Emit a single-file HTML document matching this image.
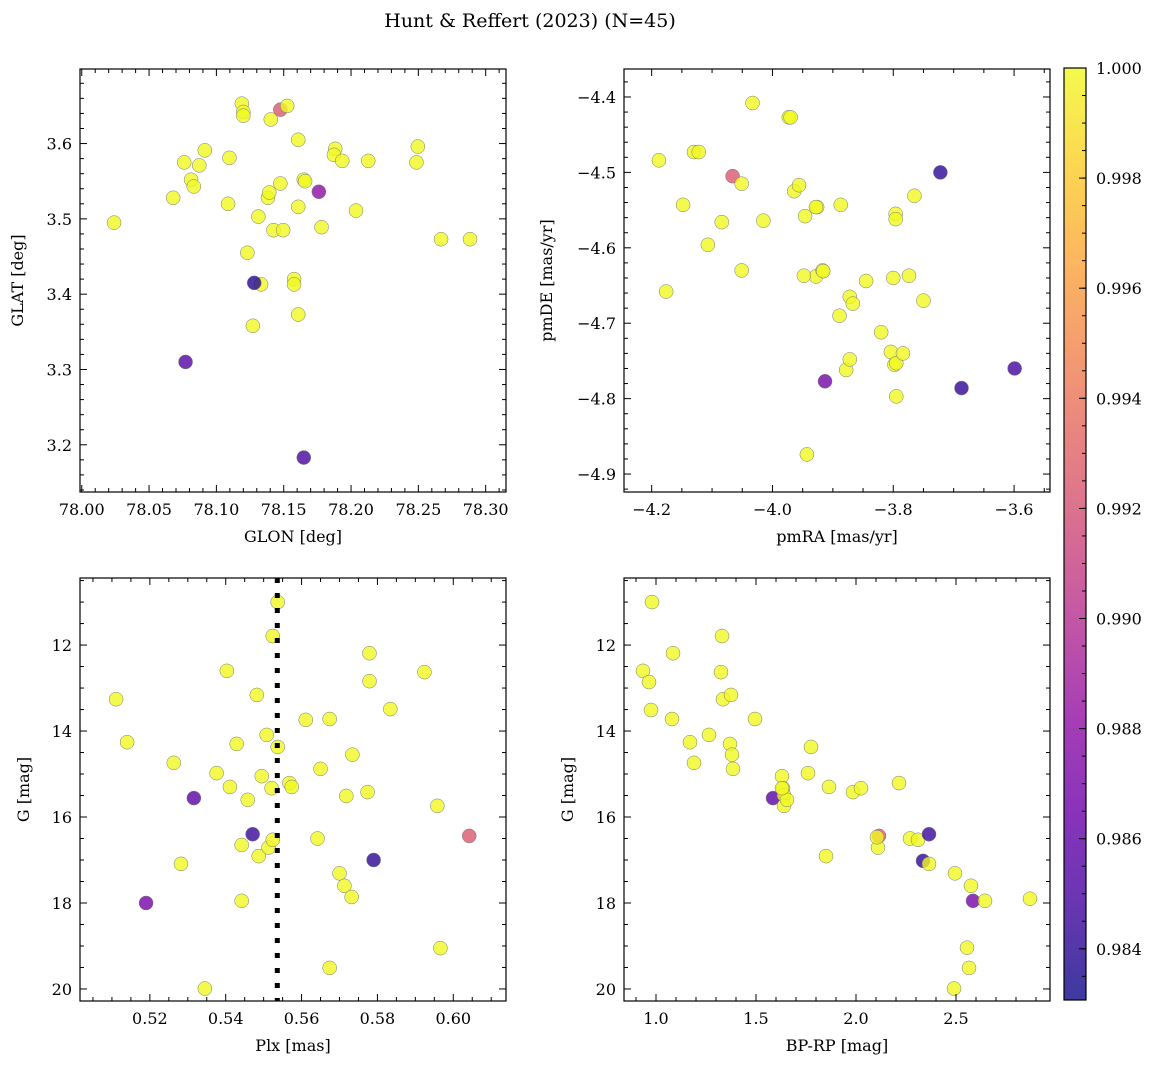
<!DOCTYPE html>
<html><head><meta charset="utf-8">
<style>
html,body{margin:0;padding:0;background:#fff;}
svg{display:block;font-family:"DejaVu Serif","Liberation Serif",serif;}
</style></head>
<body>
<svg id="fig" width="1161" height="1068" xmlns="http://www.w3.org/2000/svg">
<text x="530" y="27" text-anchor="middle" font-size="19">Hunt &amp; Reffert (2023) (N=45)</text>
</svg>
<script>
// ---- data ----
const glon=[78.0240,78.0679,78.0761,78.0812,78.0832,78.0873,78.0914,78.1097,78.1087,78.1189,78.1200,78.1200,78.1230,78.1312,78.1332,78.1404,78.1383,78.1393,78.1424,78.1475,78.1475,78.1496,78.1526,78.1577,78.1577,78.1608,78.1608,78.1608,78.1649,78.1659,78.1761,78.1781,78.1883,78.1873,78.1935,78.2037,78.2128,78.2486,78.2496,78.2669,78.2884,78.1281,78.0771,78.1649,78.1271];
const glat=[3.495,3.528,3.575,3.552,3.543,3.571,3.591,3.581,3.520,3.653,3.642,3.637,3.455,3.503,3.413,3.632,3.528,3.535,3.485,3.547,3.645,3.485,3.650,3.420,3.413,3.605,3.516,3.373,3.552,3.550,3.536,3.489,3.593,3.585,3.577,3.511,3.577,3.575,3.596,3.473,3.473,3.415,3.310,3.183,3.358];
const probTL=[1,1,1,1,1,1,1,1,1,1,1,1,1,1,1,1,1,1,1,1,0.9925,1,1,1,1,1,1,1,1,1,0.988,1,1,1,1,1,1,1,1,1,1,0.9838,0.9855,0.985,1];
const pmra=[-4.188,-4.176,-4.130,-4.122,-4.148,-4.107,-4.084,-4.066,-4.051,-4.051,-4.033,-4.015,-3.973,-3.970,-3.964,-3.956,-3.946,-3.928,-3.926,-3.928,-3.917,-3.916,-3.943,-3.889,-3.887,-3.878,-3.872,-3.872,-3.867,-3.845,-3.820,-3.804,-3.800,-3.798,-3.796,-3.796,-3.795,-3.795,-3.784,-3.774,-3.765,-3.750,-3.722,-3.687,-3.599,-3.913,-3.948];
const pmde=[-4.484,-4.658,-4.473,-4.473,-4.543,-4.596,-4.566,-4.505,-4.515,-4.630,-4.408,-4.564,-4.427,-4.427,-4.525,-4.517,-4.558,-4.638,-4.546,-4.546,-4.630,-4.631,-4.874,-4.690,-4.543,-4.762,-4.665,-4.748,-4.674,-4.644,-4.712,-4.738,-4.640,-4.755,-4.555,-4.562,-4.753,-4.797,-4.740,-4.637,-4.531,-4.670,-4.500,-4.786,-4.760,-4.777,-4.637];
const probTR=[1,1,1,1,1,1,1,0.9925,1,1,1,1,1,1,1,1,1,1,1,1,1,1,1,1,1,1,1,1,1,1,1,1,1,1,1,1,1,1,1,1,1,1,0.984,0.9842,0.9848,0.987,1];
const plx=[0.5111,0.5140,0.5263,0.5316,0.5190,0.5282,0.5345,0.5376,0.5403,0.5411,0.5429,0.5442,0.5442,0.5458,0.5471,0.5482,0.5487,0.5495,0.5508,0.5513,0.5524,0.5524,0.5521,0.5537,0.5537,0.5568,0.5574,0.5611,0.5642,0.5650,0.5674,0.5674,0.5700,0.5713,0.5718,0.5732,0.5734,0.5774,0.5779,0.5779,0.5790,0.5834,0.5924,0.5958,0.5966,0.6042];
const gPL=[13.26,14.26,14.74,15.56,18.00,17.09,19.99,14.98,12.60,15.30,14.30,17.95,16.65,15.60,16.40,13.16,16.91,15.05,14.09,16.71,11.79,16.53,15.33,11.00,14.37,15.21,15.30,13.74,16.50,14.88,13.72,19.51,17.31,17.60,15.51,17.86,14.55,15.42,12.19,12.84,17.00,13.49,12.63,15.74,19.05,16.44];
const probBL=[1,1,1,0.9857,0.987,1,1,1,1,1,1,1,1,1,0.9845,1,1,1,1,1,1,1,1,1,1,1,1,1,1,1,1,1,1,1,1,1,1,1,1,1,0.984,1,1,1,1,0.9925];
const bprp=[0.935,0.965,0.980,0.975,1.080,1.085,1.170,1.190,1.265,1.330,1.325,1.335,1.375,1.370,1.380,1.385,1.495,1.585,1.630,1.635,1.640,1.640,1.655,1.630,1.775,1.760,1.850,1.865,1.985,2.025,2.110,2.215,2.115,2.105,2.270,2.310,2.335,2.365,2.365,2.495,2.575,2.585,2.645,2.870,2.555,2.565,2.490];
const gBR=[12.60,12.86,11.00,13.51,13.72,12.19,14.26,14.74,14.09,11.79,12.63,13.26,13.16,14.30,14.55,14.88,13.72,15.56,15.05,15.33,15.49,15.74,15.60,15.33,14.37,14.98,16.91,15.30,15.42,15.33,16.71,15.21,16.44,16.47,16.50,16.53,17.02,17.09,16.40,17.31,17.60,17.95,17.95,17.90,19.04,19.51,19.99];
const probBR=[1,1,1,1,1,1,1,1,1,1,1,1,1,1,1,1,1,0.9857,1,1,1,1,1,1,1,1,1,1,1,1,1,1,0.9925,1,1,1,0.984,1,0.9845,1,1,0.987,1,1,1,1,1];
const cbTicks=[0.984,0.986,0.988,0.990,0.992,0.994,0.996,0.998,1.000];
const plxLine=0.5536;

const NS="http://www.w3.org/2000/svg";
const svg=document.getElementById('fig');
function el(tag,attrs,parent){const e=document.createElementNS(NS,tag);for(const k in attrs)e.setAttribute(k,attrs[k]);(parent||svg).appendChild(e);return e;}
const VMIN=0.98307,VMAX=1.0;
const stops=["#0d0887","#41049d","#6a00a8","#8f0da4","#b12a90","#cc4778","#e16462","#f2844b","#fca636","#fcce25","#f0f921"];
function hex(h){return [1,3,5].map(i=>parseInt(h.substr(i,2),16));}
function plasma(t){t=Math.max(0,Math.min(1,t));const f=t*10,i=Math.min(9,Math.floor(f)),r=f-i;const a=hex(stops[i]),b=hex(stops[i+1]);return 'rgb('+a.map((v,k)=>Math.round(v+(b[k]-v)*r)).join(',')+')';}
function cmap(v){return plasma((v-VMIN)/(VMAX-VMIN));}
function fmt(v,d){const s=Math.abs(v).toFixed(d);return (v<-1e-9?'\u2212':'')+s;}

function panel(o){
  const g=el('g',{});
  
  
  const X=v=>o.x0+(v-o.xmin)/(o.xmax-o.xmin)*(o.x1-o.x0);
  const Y=o.yinv?(v=>o.y0+(v-o.ymin)/(o.ymax-o.ymin)*(o.y1-o.y0)):(v=>o.y1-(v-o.ymin)/(o.ymax-o.ymin)*(o.y1-o.y0));
  const pts=el('g',{},g);
  
  
  for(let i=0;i<o.xs.length;i++){
    const c=el('circle',{cx:X(o.xs[i]),cy:Y(o.ys[i]),r:7,fill:cmap(o.c[i]),'fill-opacity':0.8,stroke:'#777','stroke-width':0.5},pts);
    
    
  }
  if(o.vline!==undefined){
    const l=el('line',{x1:X(o.vline),x2:X(o.vline),y1:o.y0,y2:o.y1,stroke:'#000','stroke-width':5,'stroke-dasharray':'5 10'},g);
    
    
  }
  const fr=el('rect',{x:o.x0,y:o.y0,width:o.x1-o.x0,height:o.y1-o.y0,fill:'none',stroke:'#000','stroke-width':1.2},g);
  
  
  const xt=el('g',{},g);
  
  
  const eps=1e-9;
  const mstep=o.xstep/o.xsub;
  for(let v=Math.ceil((o.xmin-eps)/mstep)*mstep;v<=o.xmax+eps;v+=mstep){
    const px=X(v);const k=Math.round(v/mstep);const major=(k%o.xsub)===0;const L=major?7:4;
    el('line',{x1:px,x2:px,y1:o.y1,y2:o.y1-L,stroke:'#000','stroke-width':1},xt);
    el('line',{x1:px,x2:px,y1:o.y0,y2:o.y0+L,stroke:'#000','stroke-width':1},xt);
    if(major){const t=el('text',{x:px,y:o.y1+23,'text-anchor':'middle','font-size':16},xt);t.textContent=fmt(v,o.xd);}
  }
  const ys=o.ystep/o.ysub;
  const yt=el('g',{},g);
  
  
  const lo=Math.min(o.ymin,o.ymax),hi=Math.max(o.ymin,o.ymax);
  for(let v=Math.ceil((lo-eps)/ys)*ys;v<=hi+eps;v+=ys){
    const py=Y(v);const k=Math.round(v/ys);const major=(k%o.ysub)===0;const L=major?7:4;
    el('line',{x1:o.x0,x2:o.x0+L,y1:py,y2:py,stroke:'#000','stroke-width':1},yt);
    el('line',{x1:o.x1,x2:o.x1-L,y1:py,y2:py,stroke:'#000','stroke-width':1},yt);
    if(major){const t=el('text',{x:o.x0-8,y:py+6,'text-anchor':'end','font-size':16},yt);t.textContent=fmt(v,o.yd);}
  }
  const xl=el('text',{x:(o.x0+o.x1)/2,y:o.y1+50,'text-anchor':'middle','font-size':16},g);
  xl.textContent=o.xlabel;
  
  
  const yl=el('text',{x:0,y:0,'text-anchor':'middle','font-size':16,transform:`translate(${o.ylx},${(o.y0+o.y1)/2}) rotate(-90)`},g);
  yl.textContent=o.ylabel;
  
  
}
panel({name:'glon-glat-panel',x0:80,x1:506,y0:69,y1:492,xmin:77.9987,xmax:78.3151,ymin:3.1373,ymax:3.699,xs:glon,ys:glat,c:probTL,xstep:0.05,xsub:5,xd:2,ystep:0.1,ysub:5,yd:1,xlabel:'GLON [deg]',ylabel:'GLAT [deg]',ylx:23});
panel({name:'proper-motion-panel',x0:624,x1:1050,y0:69,y1:492,xmin:-4.2458,xmax:-3.5405,ymin:-4.9238,ymax:-4.3629,xs:pmra,ys:pmde,c:probTR,xstep:0.2,xsub:4,xd:1,ystep:0.1,ysub:5,yd:1,xlabel:'pmRA [mas/yr]',ylabel:'pmDE [mas/yr]',ylx:552});
panel({name:'parallax-magnitude-panel',x0:80,x1:506,y0:578,y1:1001,xmin:0.50158,xmax:0.6139,ymin:10.44,ymax:20.28,yinv:true,xs:plx,ys:gPL,c:probBL,xstep:0.02,xsub:4,xd:2,ystep:2,ysub:4,yd:0,xlabel:'Plx [mas]',ylabel:'G [mag]',ylx:29,vline:plxLine});
panel({name:'color-magnitude-panel',x0:624,x1:1050,y0:578,y1:1001,xmin:0.84,xmax:2.97,ymin:10.44,ymax:20.28,yinv:true,xs:bprp,ys:gBR,c:probBR,xstep:0.5,xsub:5,xd:1,ystep:2,ysub:4,yd:0,xlabel:'BP-RP [mag]',ylabel:'G [mag]',ylx:573});

const cb=el('g',{});


const defs=el('defs',{},cb);
const lg=el('linearGradient',{id:'cbg',x1:0,y1:1,x2:0,y2:0},defs);
for(let i=0;i<=20;i++){el('stop',{offset:i/20,'stop-color':plasma(i/20),'stop-opacity':0.8},lg);}
const CX0=1064,CX1=1086,CY0=68,CY1=1000;
el('rect',{x:CX0,y:CY0,width:CX1-CX0,height:CY1-CY0,fill:'url(#cbg)',stroke:'#000','stroke-width':1.2},cb);
const CY=v=>CY1-(v-VMIN)/(VMAX-VMIN)*(CY1-CY0);
for(let v=0.9835;v<=1.00001;v+=0.0005){const py=CY(v);el('line',{x1:CX1,x2:CX1-4,y1:py,y2:py,stroke:'#000','stroke-width':1},cb);}
cbTicks.forEach(v=>{const py=CY(v);el('line',{x1:CX1,x2:CX1-7,y1:py,y2:py,stroke:'#000','stroke-width':1},cb);
 const t=el('text',{x:1096,y:py+6,'font-size':16},cb);t.textContent=v.toFixed(3);});
</script>
</body></html>
